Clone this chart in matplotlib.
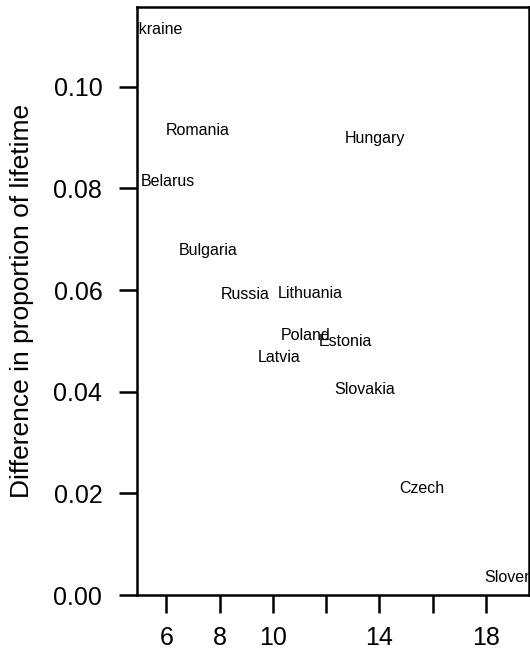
import matplotlib
matplotlib.use("Agg")
import matplotlib.pyplot as plt

plt.rcParams['font.family'] = ['Liberation Sans', 'DejaVu Sans']

# country positions: x = years, y = difference in proportion of lifetime
countries = ["Ukraine", "Romania", "Hungary", "Belarus", "Bulgaria", "Russia",
             "Lithuania", "Poland", "Estonia", "Latvia", "Slovakia", "Czech", "Slovenia"]
x_vals = [5.6, 7.16, 13.85, 6.07, 7.55, 8.96, 11.4, 11.24, 12.72, 10.22, 13.45, 15.6, 19.09]
y_vals = [0.1112, 0.0915, 0.0898, 0.0813, 0.0677, 0.0591, 0.0594, 0.0510, 0.0498,
          0.0467, 0.0404, 0.0209, 0.0035]

x_ticks = [6, 8, 10, 12, 14, 16, 18]
x_ticklabels = ["6", "8", "10", "", "14", "", "18"]
y_ticks = [0.00, 0.02, 0.04, 0.06, 0.08, 0.10]

fig = plt.figure(figsize=(5.30, 6.62), dpi=100)
ax = fig.add_axes([0.2585, 0.1012, 0.7395, 0.8882])

for name, xv, yv in zip(countries, x_vals, y_vals):
    ax.text(xv, yv, name, ha='center', va='center', fontsize=11.5, clip_on=True)

ax.set_xlim(4.895, 19.62)
ax.set_ylim(0, 0.1157)

ax.set_xticks(x_ticks)
ax.set_xticklabels(x_ticklabels)
ax.set_yticks(y_ticks)
ax.set_yticklabels([f"{v:.2f}" for v in y_ticks])

ax.tick_params(axis='x', direction='out', length=13, width=1.8, labelsize=18, pad=9)
ax.tick_params(axis='y', direction='out', length=13, width=1.8, labelsize=18, pad=12)
for sp in ax.spines.values():
    sp.set_linewidth(1.8)

ax.set_ylabel("Difference in proportion of lifetime", fontsize=19)
ax.yaxis.set_label_coords(-0.263, 0.5)

fig.savefig("out.png", dpi=100)
